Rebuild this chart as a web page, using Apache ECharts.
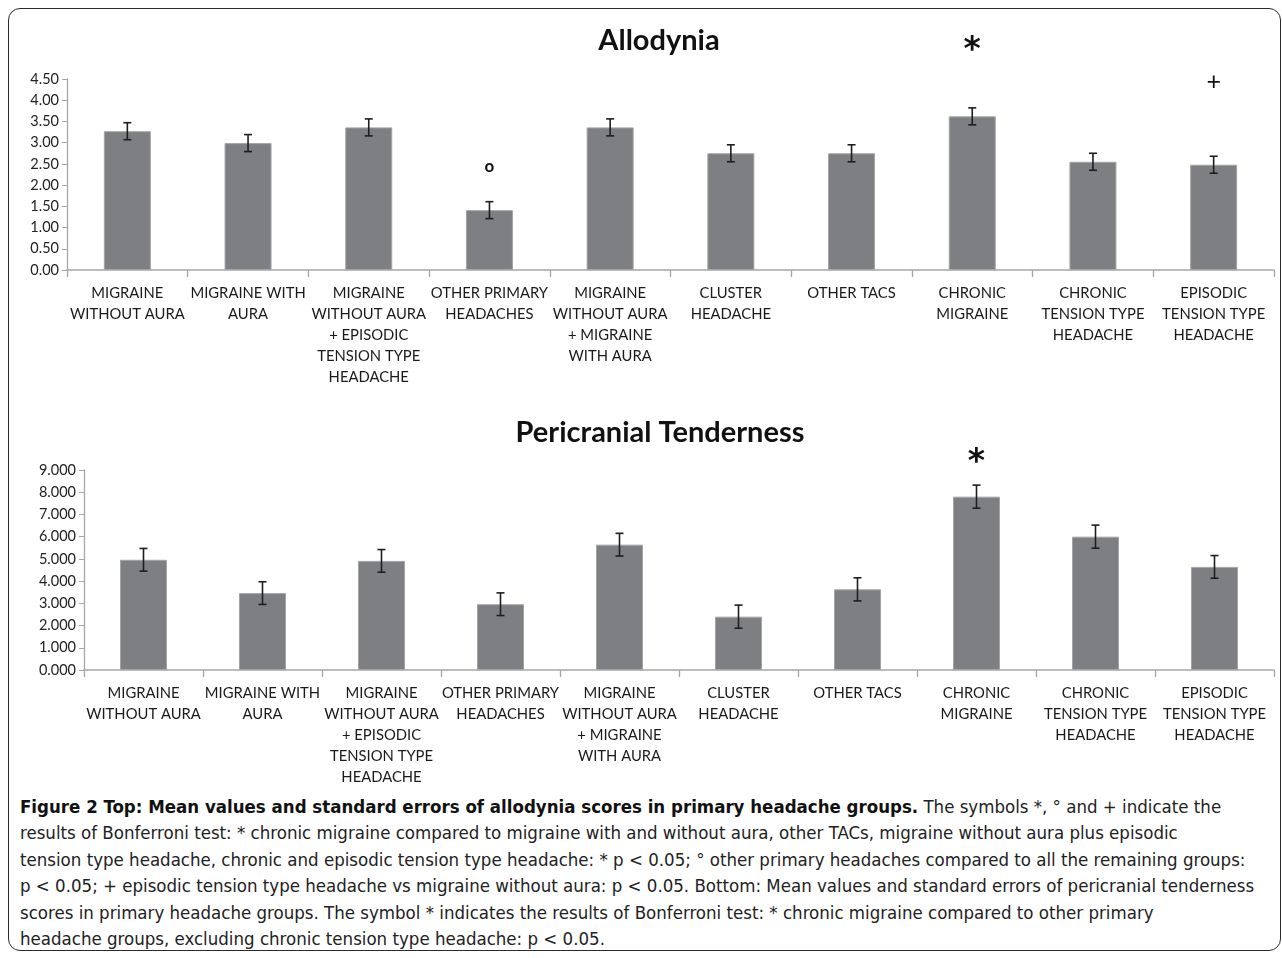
<!DOCTYPE html>
<html>
<head>
<meta charset="utf-8">
<script src="https://cdn.jsdelivr.net/npm/echarts@6/dist/echarts.min.js"></script>
<style>
html,body{margin:0;padding:0;background:#fff;width:1282px;height:958px;overflow:hidden;}
#frame{position:absolute;left:8px;top:8px;width:1273px;height:943px;border:1.5px solid #2a2a2a;border-radius:12px;box-sizing:border-box;}
#chart{position:absolute;left:0;top:0;width:1282px;height:790px;}
#caption{position:absolute;left:20px;top:794px;font-family:"Liberation Sans Narrow","DejaVu Sans Condensed",sans-serif;font-size:18.5px;line-height:26.4px;color:#222;white-space:nowrap;}
#caption b{font-weight:bold;color:#111;}
</style>
</head>
<body>
<div id="frame"></div>
<div id="chart"></div>
<div id="caption">
<b>Figure 2 Top: Mean values and standard errors of allodynia scores in primary headache groups.</b> The symbols *, ° and + indicate the<br>
results of Bonferroni test: * chronic migraine compared to migraine with and without aura, other TACs, migraine without aura plus episodic<br>
tension type headache, chronic and episodic tension type headache: * p &lt; 0.05; ° other primary headaches compared to all the remaining groups:<br>
p &lt; 0.05; + episodic tension type headache vs migraine without aura: p &lt; 0.05. Bottom: Mean values and standard errors of pericranial tenderness<br>
scores in primary headache groups. The symbol * indicates the results of Bonferroni test: * chronic migraine compared to other primary<br>
headache groups, excluding chronic tension type headache: p &lt; 0.05.
</div>
<script>
// ---- data ----
const categories = [
  "MIGRAINE\nWITHOUT AURA",
  "MIGRAINE WITH\nAURA",
  "MIGRAINE\nWITHOUT AURA\n+ EPISODIC\nTENSION TYPE\nHEADACHE",
  "OTHER PRIMARY\nHEADACHES",
  "MIGRAINE\nWITHOUT AURA\n+ MIGRAINE\nWITH AURA",
  "CLUSTER\nHEADACHE",
  "OTHER TACS",
  "CHRONIC\nMIGRAINE",
  "CHRONIC\nTENSION TYPE\nHEADACHE",
  "EPISODIC\nTENSION TYPE\nHEADACHE"
];
const allodyniaMean = [3.27, 2.99, 3.36, 1.41, 3.36, 2.75, 2.75, 3.62, 2.55, 2.48];
const allodyniaSE   = [0.20, 0.20, 0.20, 0.20, 0.20, 0.20, 0.20, 0.20, 0.20, 0.20];
const tenderMean    = [4.96, 3.46, 4.91, 2.96, 5.64, 2.40, 3.63, 7.80, 6.00, 4.64];
const tenderSE      = [0.51, 0.51, 0.51, 0.51, 0.51, 0.52, 0.52, 0.52, 0.52, 0.51];
const allodyniaTicks = [0, 0.5, 1, 1.5, 2, 2.5, 3, 3.5, 4, 4.5];
const tenderTicks    = [0, 1, 2, 3, 4, 5, 6, 7, 8, 9];
// significance marks: [category index, value level, symbol]
const allodyniaMarks = [[7, 5.32, "*"], [3, 2.43, "o"], [9, 4.43, "+"]];
const tenderMarks    = [[7, 9.6, "*"]];

// ---- chart ----
const FONT = "Lato, 'Open Sans', sans-serif";
const barColor = "#7e7f83";
const axisGray = "#a6a6a6";

function errRender(params, api) {
  const x = api.value(0), v = api.value(1), e = api.value(2);
  const hi = api.coord([x, v + e]);
  const lo = api.coord([x, v - e]);
  const w = 4;
  const st = { stroke: "#1e1e1e", lineWidth: 1.6 };
  return { type: "group", children: [
    { type: "line", shape: { x1: hi[0], y1: hi[1], x2: lo[0], y2: lo[1] }, style: st },
    { type: "line", shape: { x1: hi[0] - w, y1: hi[1], x2: hi[0] + w, y2: hi[1] }, style: st },
    { type: "line", shape: { x1: lo[0] - w, y1: lo[1], x2: lo[0] + w, y2: lo[1] }, style: st }
  ]};
}
const markSym = {};
function markRender(params, api) {
  const p = api.coord([api.value(0), api.value(1)]);
  const s = markSym[params.seriesIndex][params.dataIndex];
  let font, dy = 0;
  if (s === "*") { font = "bold 33px 'DejaVu Sans', sans-serif"; dy = 7; }
  else if (s === "+") { font = "25px " + FONT; }
  else { font = "bold 17px " + FONT; }
  return { type: "text", x: p[0], y: p[1] + dy, style: {
    text: s, fill: "#111", font: font, align: "center", verticalAlign: "middle" } };
}

function yAxis(gi, ticks, digits) {
  return {
    type: "value", gridIndex: gi, min: ticks[0], max: ticks[ticks.length - 1],
    interval: ticks[1] - ticks[0],
    splitLine: { show: false },
    axisLine: { show: true, lineStyle: { color: axisGray, width: 1.3 } },
    axisTick: { show: true, length: 5, lineStyle: { color: axisGray } },
    axisLabel: { color: "#222", fontSize: 14.5, fontFamily: FONT, margin: 8,
      formatter: v => v.toFixed(digits) }
  };
}
function xAxis(gi) {
  return {
    type: "category", gridIndex: gi, data: categories,
    axisLine: { lineStyle: { color: axisGray, width: 1.6 } },
    axisTick: { show: true, length: 7, lineStyle: { color: axisGray, width: 1.3 } },
    axisLabel: { color: "#1a1a1a", fontSize: 14.8, fontFamily: FONT, interval: 0,
      lineHeight: 21, margin: 13 }
  };
}

const chart = echarts.init(document.getElementById("chart"));
const series = [
  { type: "bar", xAxisIndex: 0, yAxisIndex: 0, data: allodyniaMean, barWidth: 47,
    itemStyle: { color: barColor, borderColor: "#a4a4a8", borderWidth: 1 }, silent: true },
  { type: "custom", xAxisIndex: 0, yAxisIndex: 0, renderItem: errRender, z: 5,
    data: allodyniaMean.map((v, i) => [i, v, allodyniaSE[i]]) },
  { type: "custom", xAxisIndex: 0, yAxisIndex: 0, renderItem: markRender, clip: false, z: 6,
    data: allodyniaMarks.map(m => [m[0], m[1]]) },
  { type: "bar", xAxisIndex: 1, yAxisIndex: 1, data: tenderMean, barWidth: 47,
    itemStyle: { color: barColor, borderColor: "#a4a4a8", borderWidth: 1 }, silent: true },
  { type: "custom", xAxisIndex: 1, yAxisIndex: 1, renderItem: errRender, z: 5,
    data: tenderMean.map((v, i) => [i, v, tenderSE[i]]) },
  { type: "custom", xAxisIndex: 1, yAxisIndex: 1, renderItem: markRender, clip: false, z: 6,
    data: tenderMarks.map(m => [m[0], m[1]]) }
];
markSym[2] = allodyniaMarks.map(m => m[2]);
markSym[5] = tenderMarks.map(m => m[2]);

chart.setOption({
  animation: false,
  textStyle: { fontFamily: FONT },
  title: [
    { text: "Allodynia", left: 654, top: 21, textAlign: "center",
      textStyle: { fontFamily: FONT, fontWeight: "bold", fontSize: 29, color: "#111" } },
    { text: "Pericranial Tenderness", left: 655, top: 413, textAlign: "center",
      textStyle: { fontFamily: FONT, fontWeight: "bold", fontSize: 29, color: "#111" } }
  ],
  grid: [
    { left: 67, right: 8, top: 79, height: 191 },
    { left: 84, right: 8, top: 470, height: 200 }
  ],
  xAxis: [xAxis(0), xAxis(1)],
  yAxis: [yAxis(0, allodyniaTicks, 2), yAxis(1, tenderTicks, 3)],
  series: series
});
</script>
</body>
</html>
